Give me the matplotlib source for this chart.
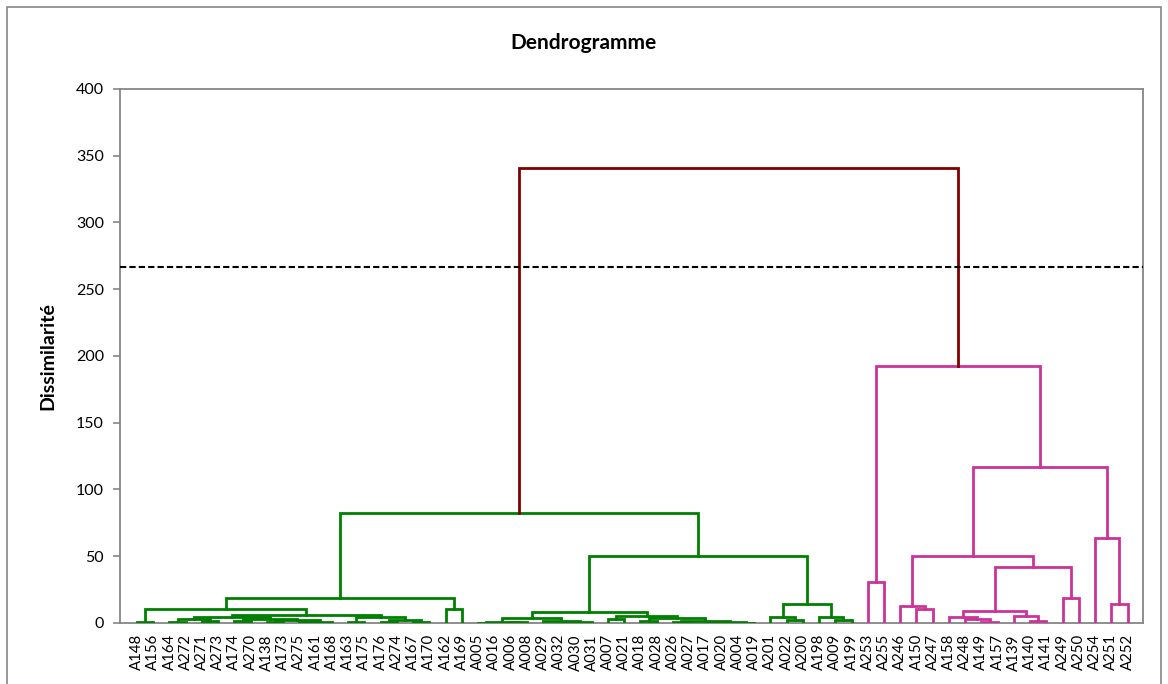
import matplotlib
matplotlib.use("Agg")
import matplotlib.pyplot as plt
from matplotlib.patches import Rectangle

# feuilles dans l'ordre du dendrogramme
feuilles = [
    "A148", "A156", "A164", "A272", "A271", "A273", "A174", "A270", "A138", "A173",
    "A275", "A161", "A168", "A163", "A175", "A176", "A274", "A167", "A170", "A162",
    "A169", "A005", "A016", "A006", "A008", "A029", "A032", "A030", "A031", "A007",
    "A021", "A018", "A028", "A026", "A027", "A017", "A020", "A004", "A019", "A201",
    "A022", "A200", "A198", "A009", "A199", "A253", "A255", "A246", "A150", "A247",
    "A158", "A248", "A149", "A157", "A139", "A140", "A141", "A249", "A250", "A254",
    "A251", "A252",
]

# fusions (noeud gauche, noeud droit) ; les noeuds >= 62 sont les fusions precedentes
fusions = [
    (0, 1), (2, 3), (4, 5), (63, 64), (6, 7), (8, 9), (10, 11), (68, 12), (67, 69),
    (66, 70), (65, 71), (13, 14), (15, 16), (17, 18), (74, 75), (73, 76), (72, 77),
    (62, 78), (19, 20), (79, 80),
    (21, 22), (23, 24), (82, 83), (26, 27), (85, 28), (25, 86), (84, 87), (29, 30),
    (31, 32), (33, 34), (35, 36), (37, 38), (92, 93), (91, 94), (90, 95), (89, 96),
    (88, 97), (40, 41), (39, 99), (43, 44), (42, 101), (100, 102), (98, 103), (81, 104),
    (45, 46), (48, 49), (47, 107), (52, 53), (51, 109), (50, 110), (55, 56), (54, 112),
    (111, 113), (57, 58), (114, 115), (108, 116), (60, 61), (59, 118), (117, 119),
    (106, 120), (105, 121),
]

# niveaux de dissimilarite de chaque fusion
niveaux = [
    1.0, 1.0, 1.2, 2.7, 1.5, 1.0, 0.6, 0.9, 2.0,
    3.0, 4.5, 1.0, 1.0, 0.7, 2.0, 4.5, 6.0,
    10.5, 10.2, 18.7,
    0.3, 0.4, 0.8, 0.3, 0.6, 1.5, 3.5, 3.3,
    1.2, 0.8, 0.4, 0.3, 0.9, 1.5, 3.8, 5.2,
    8.0, 2.2, 4.7, 2.0, 4.7, 14.2, 50.2, 82.4,
    30.7, 10.5, 12.7, 0.75, 3.0, 4.3, 1.7, 5.2,
    9.0, 19.0, 42.2, 50.2, 14.4, 63.5, 116.9,
    192.5, 341.0,
]

troncature = 266.7
couleurs_classes = ["#008000", "#CC3399"]
couleur_haut = "#800000"

n = len(feuilles)
pos_x = {i: float(i) for i in range(n)}
pos_y = {i: 0.0 for i in range(n)}
enfants = {}
for k, ((a, b), h) in enumerate(zip(fusions, niveaux)):
    noeud = n + k
    pos_x[noeud] = (pos_x[a] + pos_x[b]) / 2
    pos_y[noeud] = h
    enfants[noeud] = (a, b)

# couleur de chaque fusion : rouge au-dessus de la troncature, une couleur par classe dessous
couleur = {}
classe = 0
for noeud in sorted(enfants, reverse=True):
    if pos_y[noeud] > troncature:
        couleur[noeud] = couleur_haut
        for c in enfants[noeud]:
            if c in enfants and pos_y[c] <= troncature:
                couleur[c] = couleurs_classes[classe]
                classe += 1
for noeud in sorted(enfants, reverse=True):
    for c in enfants[noeud]:
        if c in enfants and c not in couleur:
            couleur[c] = couleur[noeud]

plt.rcParams["font.family"] = ["Lato", "DejaVu Sans"]
fig = plt.figure(figsize=(11.68, 6.84), dpi=100)
ax = fig.add_axes([0.1027, 0.0892, 0.8759, 0.7807])

for noeud, (a, b) in enfants.items():
    ax.plot([pos_x[a], pos_x[a], pos_x[b], pos_x[b]],
            [pos_y[a], pos_y[noeud], pos_y[noeud], pos_y[b]],
            color=couleur[noeud], linewidth=2.0, solid_joinstyle="miter", zorder=3)

ax.axhline(troncature, color="black", linestyle=(0, (3, 1.5)), linewidth=1.5, zorder=4)

ax.set_xlim(-1.05, n - 0.05)
ax.set_ylim(0, 400)
ax.set_yticks(range(0, 401, 50))
ax.set_xticks(range(n))
ax.set_xticklabels(feuilles, rotation=90, fontsize=10.8)
ax.tick_params(axis="x", length=0, pad=8)
ax.tick_params(axis="y", length=5, width=1.2, color="#868686", labelsize=11.5, pad=6.5)
for s in ax.spines.values():
    s.set_color("#868686")
    s.set_linewidth(1.3)
ax.spines["bottom"].set_zorder(2)

fig.text(48 / 1168, 1 - 356 / 684, "Dissimilarité", rotation=90, ha="center", va="center",
         fontsize=14, fontweight="bold")
fig.text(0.5, 1 - 43 / 684, "Dendrogramme", ha="center", va="center",
         fontsize=15, fontweight="bold")

fig.patches.append(Rectangle((7 / 1168, -0.01), 1154 / 1168, 1 - 7 / 684 + 0.01,
                             transform=fig.transFigure, fill=False,
                             edgecolor="#868686", linewidth=1.2))

fig.savefig("out.png", dpi=100)
